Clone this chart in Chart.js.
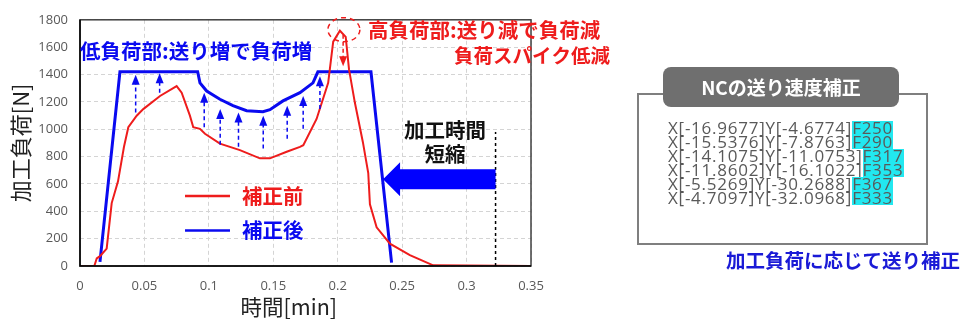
<!DOCTYPE html>
<html lang="ja">
<head>
<meta charset="UTF-8">
<title>送り速度補正</title>
<script src="https://cdn.jsdelivr.net/npm/chart.js"></script>
<style>
  body { margin: 0; background: #fff; }
  #wrap { position: relative; width: 975px; height: 333px; overflow: hidden; }
  #loadChart { position: absolute; left: 0; top: 0; }
  .jp { font-family: "Noto Sans CJK JP", sans-serif; font-weight: bold; }
  #ncBox {
    position: absolute; left: 637px; top: 93px; width: 287px; height: 148px;
    border: 2px solid #7f7f7f;
  }
  #ncHead {
    position: absolute; left: 663px; top: 67px; width: 236px; height: 40px;
    background: #6f6f6f; border-radius: 8px; color: #fff;
    font-size: 19px; line-height: 40px; text-align: center;
  }
  #ncCode {
    position: absolute; left: 668px; top: 121px;
    font-family: "Open Sans", sans-serif; font-size: 17px; letter-spacing: 0.75px;
    color: #595959; line-height: 14px; white-space: nowrap;
  }
  #ncCode div { height: 14px; }
  #ncCode .f { display: inline-block; height: 14px; line-height: 14px; background: #22e8f0; }
  #ncNote {
    position: absolute; right: 15px; top: 248px; color: #1a1ad6;
    font-size: 19.5px; line-height: 24px;
  }
</style>
</head>
<body>
<div id="wrap">
  <canvas id="loadChart" width="975" height="333"></canvas>
  <div id="ncBox"></div>
  <div id="ncHead" class="jp">NCの送り速度補正</div>
  <div id="ncCode"></div>
  <div id="ncNote" class="jp">加工負荷に応じて送り補正</div>
</div>

<script>
// 補正前 (before correction)
const timeBefore = [0, 0.0111, 0.013, 0.0155, 0.0207, 0.0246, 0.0295, 0.0341, 0.0375, 0.044,
  0.0491, 0.0621, 0.075, 0.0789, 0.0853, 0.0879, 0.0931, 0.097, 0.1086, 0.1241,
  0.1396, 0.1474, 0.1604, 0.1707, 0.1733, 0.1836, 0.1926, 0.1965, 0.2017, 0.2062,
  0.2088, 0.2133, 0.2195, 0.2237, 0.225, 0.2302, 0.2405, 0.256, 0.2741, 0.35];
const loadBefore = [0, 0, 55, 72, 127, 460, 619, 870, 1015, 1099,
  1147, 1243, 1315, 1267, 1099, 1015, 1003, 967, 895, 847,
  787, 787, 835, 871, 883, 1075, 1339, 1640, 1720, 1675,
  1435, 1195, 907, 680, 451, 283, 163, 79, 5, 0];

// 補正後 (after correction)
const timeAfter = [0.0155, 0.031, 0.0913, 0.0931, 0.0983, 0.1086, 0.1187, 0.1293, 0.142, 0.1474,
  0.1575, 0.1707, 0.1808, 0.1846, 0.2258, 0.2418];
const loadAfter = [30, 1420, 1420, 1339, 1279, 1219, 1172, 1135, 1128, 1143,
  1207, 1267, 1339, 1420, 1420, 25];

// dashed "load up" arrows
const liftX = [0.0432, 0.0618, 0.0964, 0.1088, 0.123, 0.1422, 0.1608, 0.1732, 0.1862];
const liftFrom = [1123, 1267, 1015, 886, 871, 859, 931, 1003, 1147];
const liftTo = [1399, 1410, 1267, 1147, 1123, 1099, 1171, 1243, 1387];

// spike marker / time saving
const spikeX = 0.2042;
const spikeFrom = 1690;
const spikeTo = 1460;
const spikePeak = [0.2048, 1728];
const endBefore = 0.3225;
const endAfter = 0.2352;

// NC program lines
const ncX = ['-16.9677', '-15.5376', '-14.1075', '-11.8602', '-5.5269', '-4.7097'];
const ncY = ['-4.6774', '-7.8763', '-11.0753', '-16.1022', '-30.2688', '-32.0968'];
const ncF = [250, 290, 317, 353, 367, 333];

const codeBox = document.getElementById('ncCode');
ncX.forEach((x, i) => {
  const row = document.createElement('div');
  row.innerHTML = `X[${x}]Y[${ncY[i]}]<span class="f">F${ncF[i]}</span>`;
  codeBox.appendChild(row);
});

const RED = '#ee1c1c';
const BLUE = '#0a0af0';
const JP = '"Noto Sans CJK JP", sans-serif';

function dashedArrow(ctx, x, yTail, yTip, color) {
  const dir = yTip < yTail ? -1 : 1;
  ctx.save();
  ctx.strokeStyle = color;
  ctx.fillStyle = color;
  ctx.lineWidth = 1.5;
  ctx.setLineDash([4, 3]);
  ctx.beginPath();
  ctx.moveTo(x, yTail);
  ctx.lineTo(x, yTip - dir * 8);
  ctx.stroke();
  ctx.setLineDash([]);
  ctx.beginPath();
  ctx.moveTo(x, yTip);
  ctx.lineTo(x - 4, yTip - dir * 10);
  ctx.lineTo(x + 4, yTip - dir * 10);
  ctx.closePath();
  ctx.fill();
  ctx.restore();
}

const annotations = {
  id: 'annotations',
  afterDatasetsDraw(chart) {
    const ctx = chart.ctx;
    const xs = chart.scales.x, ys = chart.scales.y;
    const a = chart.chartArea;

    // plot frame
    ctx.save();
    ctx.strokeStyle = '#404040';
    ctx.lineWidth = 1.5;
    ctx.strokeRect(a.left, a.top, a.right - a.left, a.bottom - a.top);
    ctx.strokeStyle = '#000';
    ctx.beginPath();
    ctx.moveTo(a.left, a.top);
    ctx.lineTo(a.left, a.bottom);
    ctx.lineTo(a.right, a.bottom);
    ctx.stroke();
    ctx.restore();

    // x axis title (sits a little left of centre in the original)
    ctx.save();
    ctx.font = '21.5px ' + JP;
    ctx.fillStyle = '#222';
    ctx.textAlign = 'center';
    ctx.textBaseline = 'middle';
    ctx.fillText('時間[min]', a.left + (a.right - a.left) * 0.463, a.bottom + 41);
    ctx.restore();

    // blue lift arrows
    liftX.forEach((x, i) => {
      dashedArrow(ctx, xs.getPixelForValue(x), ys.getPixelForValue(liftFrom[i]), ys.getPixelForValue(liftTo[i]), BLUE);
    });

    // red spike arrow + dashed ellipse
    dashedArrow(ctx, xs.getPixelForValue(spikeX), ys.getPixelForValue(spikeFrom), ys.getPixelForValue(spikeTo), RED);
    ctx.save();
    ctx.strokeStyle = RED;
    ctx.lineWidth = 1.5;
    ctx.setLineDash([5, 4]);
    ctx.beginPath();
    ctx.ellipse(xs.getPixelForValue(spikePeak[0]), ys.getPixelForValue(spikePeak[1]), 16, 12, 0, 0, Math.PI * 2);
    ctx.stroke();
    ctx.restore();

    // end-of-machining marker
    const xEnd = xs.getPixelForValue(endBefore);
    ctx.save();
    ctx.strokeStyle = '#000';
    ctx.lineWidth = 1.5;
    ctx.setLineDash([3, 3]);
    ctx.beginPath();
    ctx.moveTo(xEnd, ys.getPixelForValue(0));
    ctx.lineTo(xEnd, ys.getPixelForValue(980));
    ctx.stroke();
    ctx.restore();

    // big arrow: time shortened
    const xTip = xs.getPixelForValue(endAfter);
    const yc = ys.getPixelForValue(634);
    ctx.save();
    ctx.fillStyle = '#0000ff';
    ctx.beginPath();
    ctx.moveTo(xTip, yc);
    ctx.lineTo(xTip + 17, yc - 17);
    ctx.lineTo(xTip + 17, yc - 10);
    ctx.lineTo(xEnd, yc - 10);
    ctx.lineTo(xEnd, yc + 10);
    ctx.lineTo(xTip + 17, yc + 10);
    ctx.lineTo(xTip + 17, yc + 17);
    ctx.closePath();
    ctx.fill();

    ctx.textBaseline = 'middle';
    ctx.textAlign = 'center';
    ctx.fillStyle = '#111';
    ctx.font = 'bold 20.5px ' + JP;
    ctx.fillText('加工時間', xs.getPixelForValue(0.2832), ys.getPixelForValue(995));
    ctx.fillText('短縮', xs.getPixelForValue(0.2832), ys.getPixelForValue(820));

    // notes
    ctx.font = 'bold 20.5px ' + JP;
    ctx.textAlign = 'left';
    ctx.fillStyle = BLUE;
    ctx.fillText('低負荷部:送り増で負荷増', a.left, 51);
    ctx.fillStyle = RED;
    ctx.fillText('高負荷部:送り減で負荷減', 368, 30);
    ctx.textAlign = 'right';
    ctx.font = 'bold 19.5px ' + JP;
    ctx.fillText('負荷スパイク低減', 610, 56);

    // legend
    ctx.lineWidth = 2.5;
    chart.data.datasets.forEach((ds, i) => {
      const y = ys.getPixelForValue(i === 0 ? 511 : 259);
      ctx.strokeStyle = ds.borderColor;
      ctx.beginPath();
      ctx.moveTo(xs.getPixelForValue(0.0815), y);
      ctx.lineTo(xs.getPixelForValue(0.1164), y);
      ctx.stroke();
      ctx.fillStyle = ds.borderColor;
      ctx.textAlign = 'left';
      ctx.font = 'bold 20.5px ' + JP;
      ctx.fillText(ds.label, xs.getPixelForValue(0.1257), y);
    });
    ctx.restore();
  }
};

const config = {
  type: 'line',
  data: {
    datasets: [{
      label: '補正前',
      data: timeBefore.map((t, i) => ({ x: t, y: loadBefore[i] })),
      borderColor: RED,
      borderWidth: 2,
      pointRadius: 0,
      tension: 0
    }, {
      label: '補正後',
      data: timeAfter.map((t, i) => ({ x: t, y: loadAfter[i] })),
      borderColor: BLUE,
      borderWidth: 3,
      pointRadius: 0,
      tension: 0
    }]
  },
  options: {
    responsive: false,
    animation: false,
    devicePixelRatio: 1,
    layout: { padding: { left: 0, top: 16, right: 444, bottom: 0 } },
    plugins: { legend: { display: false }, tooltip: { enabled: false } },
    scales: {
      x: {
        type: 'linear',
        min: 0,
        max: 0.35,
        afterFit: s => { s.height = 67; },
        border: { display: false, dash: [4, 3] },
        grid: { color: '#d4d4d4', drawTicks: false },
        ticks: {
          stepSize: 0.05,
          padding: 12,
          color: '#595959',
          font: { family: '"Open Sans", sans-serif', size: 13 },
          callback: v => String(Math.round(v * 100) / 100)
        }
      },
      y: {
        min: 0,
        max: 1800,
        afterFit: s => { s.width = 80; },
        border: { display: false, dash: [4, 3] },
        grid: { color: '#d4d4d4', drawTicks: false },
        ticks: {
          stepSize: 200,
          padding: 12,
          color: '#595959',
          font: { family: '"Open Sans", sans-serif', size: 13 },
          callback: v => String(v)
        },
        title: {
          display: true,
          text: '加工負荷[N]',
          color: '#222',
          font: { family: JP, size: 22 },
          padding: { top: 7, bottom: 0 }
        }
      }
    }
  },
  plugins: [annotations]
};

new Chart(document.getElementById('loadChart'), config);
</script>
</body>
</html>
